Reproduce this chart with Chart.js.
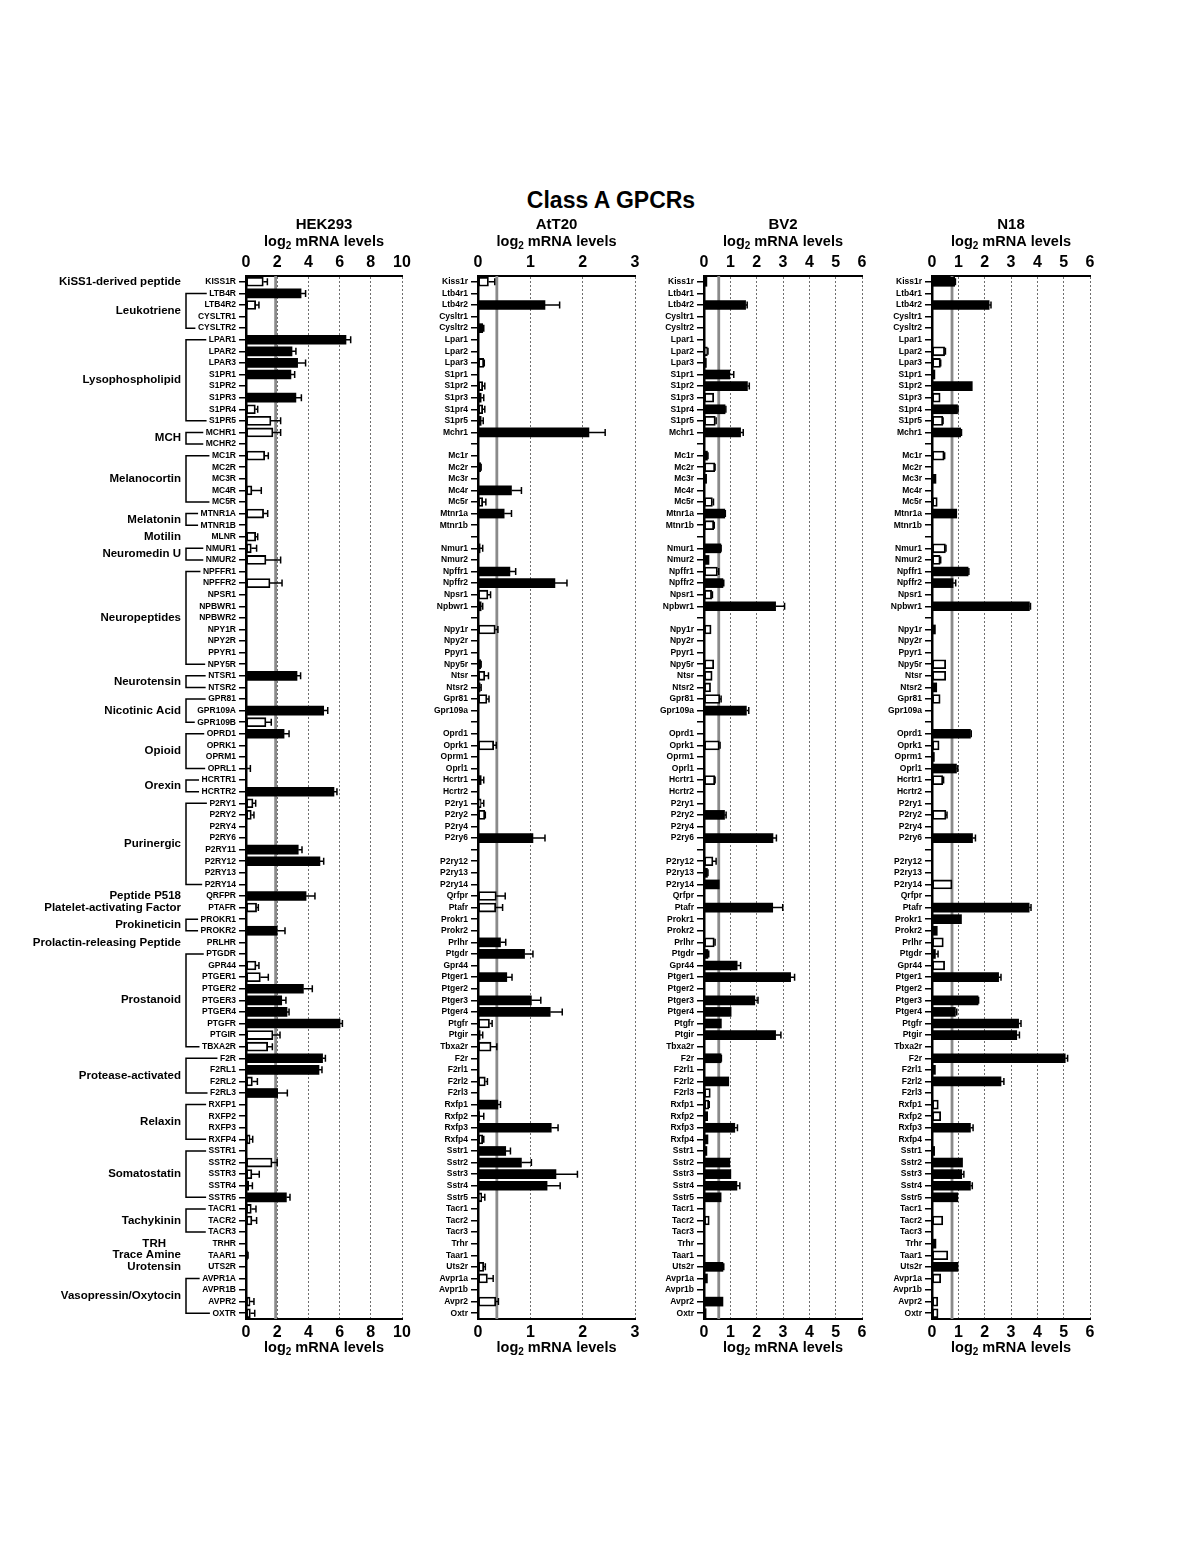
<!DOCTYPE html>
<html><head><meta charset="utf-8">
<script src="https://cdn.jsdelivr.net/npm/chart.js@4.4.1/dist/chart.umd.min.js"></script>
<style>
html,body{margin:0;padding:0;background:#fff;width:1200px;height:1553px;overflow:hidden;}
#title{position:absolute;left:0;width:1222px;top:187px;line-height:24px;text-align:center;font:bold 23px "Liberation Sans",Arial,sans-serif;color:#000;}
canvas{position:absolute;top:210px;}
</style></head><body>
<div id="title">Class A GPCRs</div>
<canvas id="c0" width="420" height="1150" style="left:0px"></canvas>
<canvas id="c1" width="230" height="1150" style="left:420px"></canvas>
<canvas id="c2" width="225" height="1150" style="left:650px"></canvas>
<canvas id="c3" width="225" height="1150" style="left:880px"></canvas>
<script>
// ---------------- DATA ----------------
const humanLabels = ['KISS1R','LTB4R','LTB4R2','CYSLTR1','CYSLTR2','LPAR1','LPAR2','LPAR3','S1PR1','S1PR2',
 'S1PR3','S1PR4','S1PR5','MCHR1','MCHR2','MC1R','MC2R','MC3R','MC4R','MC5R',
 'MTNR1A','MTNR1B','MLNR','NMUR1','NMUR2','NPFFR1','NPFFR2','NPSR1','NPBWR1','NPBWR2',
 'NPY1R','NPY2R','PPYR1','NPY5R','NTSR1','NTSR2','GPR81','GPR109A','GPR109B','OPRD1',
 'OPRK1','OPRM1','OPRL1','HCRTR1','HCRTR2','P2RY1','P2RY2','P2RY4','P2RY6','P2RY11',
 'P2RY12','P2RY13','P2RY14','QRFPR','PTAFR','PROKR1','PROKR2','PRLHR','PTGDR','GPR44',
 'PTGER1','PTGER2','PTGER3','PTGER4','PTGFR','PTGIR','TBXA2R','F2R','F2RL1','F2RL2',
 'F2RL3','RXFP1','RXFP2','RXFP3','RXFP4','SSTR1','SSTR2','SSTR3','SSTR4','SSTR5',
 'TACR1','TACR2','TACR3','TRHR','TAAR1','UTS2R','AVPR1A','AVPR1B','AVPR2','OXTR'];
const mouseLabels = ['Kiss1r','Ltb4r1','Ltb4r2','Cysltr1','Cysltr2','Lpar1','Lpar2','Lpar3','S1pr1','S1pr2',
 'S1pr3','S1pr4','S1pr5','Mchr1','','Mc1r','Mc2r','Mc3r','Mc4r','Mc5r',
 'Mtnr1a','Mtnr1b','','Nmur1','Nmur2','Npffr1','Npffr2','Npsr1','Npbwr1','',
 'Npy1r','Npy2r','Ppyr1','Npy5r','Ntsr','Ntsr2','Gpr81','Gpr109a','','Oprd1',
 'Oprk1','Oprm1','Oprl1','Hcrtr1','Hcrtr2','P2ry1','P2ry2','P2ry4','P2ry6','',
 'P2ry12','P2ry13','P2ry14','Qrfpr','Ptafr','Prokr1','Prokr2','Prlhr','Ptgdr','Gpr44',
 'Ptger1','Ptger2','Ptger3','Ptger4','Ptgfr','Ptgir','Tbxa2r','F2r','F2rl1','F2rl2',
 'F2rl3','Rxfp1','Rxfp2','Rxfp3','Rxfp4','Sstr1','Sstr2','Sstr3','Sstr4','Sstr5',
 'Tacr1','Tacr2','Tacr3','Trhr','Taar1','Uts2r','Avpr1a','Avpr1b','Avpr2','Oxtr'];

const groupNames = ['KiSS1-derived peptide','Leukotriene','Lysophospholipid','MCH','Melanocortin','Melatonin','Motilin',
 'Neuromedin U','Neuropeptides','Neurotensin','Nicotinic Acid','Opioid','Orexin','Purinergic','Peptide P518',
 'Platelet-activating Factor','Prokineticin','Prolactin-releasing Peptide','Prostanoid','Protease-activated',
 'Relaxin','Somatostatin','Tachykinin','TRH','Trace Amine','Urotensin','Vasopressin/Oxytocin'];
const groupSizes = [1,4,8,2,5,2,1,2,9,2,3,4,2,8,1,1,2,1,9,4,4,5,3,1,1,1,4];

const cellLines = ['HEK293','AtT20','BV2','N18'];
const axisMax = [10,3,6,6];
const axisStep = [2,1,1,1];
const thresholds = [1.9,0.36,0.56,0.76];

// 'f' = filled bar, 'o' = open bar, '-' = not detected
const hekValues = [1.11,3.53,0.62,0,0,6.41,2.95,3.31,2.88,0,
 3.20,0.60,1.60,1.73,0,1.20,0,0,0.38,0,
 1.13,0,0.62,0.34,1.28,0,1.54,0,0,0,
 0,0,0,0,3.27,0,0,4.98,1.28,2.44,
 0,0,0.02,0,5.64,0.45,0.34,0,0,3.35,
 4.74,0,0,3.85,0.68,0,2.00,0,0,0.64,
 0.92,3.68,2.29,2.63,6.03,1.73,1.39,4.91,4.68,0.41,
 2.03,0,0,0,0.26,0,1.67,0.38,0.17,2.59,
 0.34,0.38,0,0,0.09,0,0,0,0.26,0.28];
const hekSD = [.26,.29,.21,0,0,.30,.25,.51,.24,0,
 .35,.15,.62,.49,0,.23,0,0,.60,0,
 .26,0,.13,.34,.94,0,.77,0,0,0,
 0,0,0,0,.23,0,0,.26,.34,.32,
 0,0,.26,0,.19,.17,.17,0,0,.24,
 .24,0,0,.57,.11,0,.50,0,0,.19,
 .51,.57,.27,.13,.15,.45,.30,.18,.19,.32,
 .62,0,0,0,.17,0,.33,.47,.24,.23,
 .30,.30,0,0,.04,0,0,0,.25,.28];
const hekType = ['o','f','o','-','-','f','f','f','f','-',
 'f','o','o','o','-','o','-','-','o','-',
 'o','-','o','o','o','-','o','-','-','-',
 '-','-','-','-','f','-','-','f','o','f',
 '-','-','f','-','f','o','o','-','-','f',
 'f','-','-','f','o','-','f','-','-','o',
 'o','f','f','f','f','o','o','f','f','o',
 'f','-','-','-','o','-','o','o','f','f',
 'o','o','-','-','f','-','-','-','o','o'];

const att20Values = [.20,0,1.28,0,.09,0,0,.11,0,.09,
 .06,.09,.06,2.12,0,0,.05,0,.64,.09,
 .50,0,0,.04,0,.61,1.47,.19,.06,0,
 .33,0,0,.05,.13,.04,.17,0,0,0,
 .30,0,0,.06,0,.06,.13,0,1.05,0,
 0,0,0,.35,.34,0,0,.43,.89,0,
 .55,0,1.02,1.38,.22,.04,.25,0,0,.14,
 0,.38,.03,1.40,.09,.53,.83,1.49,1.32,.07,
 0,0,0,0,0,.11,.18,0,.34,0];
const att20SD = [.12,0,.28,0,.02,0,0,.01,0,.04,
 .05,.04,.04,.31,0,0,.01,0,.19,.06,
 .14,0,0,.05,0,.11,.23,.05,.03,0,
 .05,0,0,.01,.07,.02,.04,0,0,0,
 .05,0,0,.05,0,.05,.01,0,.23,0,
 0,0,0,.17,.13,0,0,.10,.16,0,
 .10,0,.18,.23,.05,.05,.11,0,0,.04,
 0,.05,.08,.13,.02,.09,.19,.41,.25,.06,
 0,0,0,0,0,.03,.11,0,.05,0];
const att20Type = ['o','-','f','-','f','-','-','o','-','o',
 'f','o','f','f','-','-','f','-','f','o',
 'f','-','-','f','-','f','f','o','f','-',
 'o','-','-','f','o','f','o','-','-','-',
 'o','-','-','f','-','o','o','-','f','-',
 '-','-','-','o','o','-','-','f','f','-',
 'f','-','f','f','o','f','o','-','-','o',
 '-','f','f','f','o','f','f','f','f','o',
 '-','-','-','-','-','o','o','-','o','-'];

const bv2Values = [.11,0,1.58,0,0,0,.13,.09,.98,1.65,
 .37,.80,.43,1.39,0,.13,.41,.10,0,.32,
 .79,.37,0,.64,.19,.51,.72,.29,2.72,0,
 .27,0,0,.37,.31,.25,.60,1.61,0,0,
 .58,0,0,.41,0,0,.78,0,2.62,0,
 .34,.13,.58,0,2.61,0,0,.39,.15,1.26,
 3.29,0,1.93,1.03,.66,2.72,0,.65,0,.94,
 .24,.18,.14,1.17,.15,.11,.98,1.02,1.25,.65,
 0,.20,0,0,0,.72,.13,0,.72,.08];
const bv2SD = [0,0,.06,0,0,0,.02,0,.15,.07,
 0,.03,.03,.10,0,.02,.01,0,0,.04,
 .02,.02,0,.01,0,.05,.03,.03,.34,0,
 0,0,0,0,0,0,.05,.09,0,0,
 .03,0,0,.01,0,0,.06,0,.13,0,
 .12,.02,0,0,.38,0,0,.03,.03,.13,
 .15,0,.12,0,0,.20,0,.01,0,0,
 0,.02,0,.10,0,0,0,0,.11,0,
 0,0,0,0,0,.03,0,0,0,0];
const bv2Type = ['f','-','f','-','-','-','o','f','f','f',
 'o','f','o','f','-','f','o','f','-','o',
 'f','o','-','f','f','o','f','o','f','-',
 'o','-','-','o','o','o','o','f','-','-',
 'o','-','-','o','-','-','f','-','f','-',
 'o','f','f','-','f','-','-','o','f','f',
 'f','-','f','f','f','f','-','f','-','f',
 'o','o','f','f','f','f','f','f','f','f',
 '-','o','-','-','-','f','f','-','f','f'];

const n18Values = [.86,0,2.17,0,0,0,.48,.32,.11,1.53,
 .31,.97,.41,1.09,0,.46,0,.15,0,.20,
 .94,0,0,.51,.31,1.37,.80,0,3.70,0,
 .13,0,0,.52,.52,.18,.31,0,0,1.46,
 .27,.09,.93,.41,0,0,.53,0,1.54,0,
 0,0,.76,0,3.69,1.12,.20,.43,.13,.48,
 2.53,0,1.75,.89,3.29,3.22,0,5.06,.13,2.62,
 0,.24,.33,1.46,0,.10,1.16,1.13,1.46,.98,
 0,.41,0,.15,.60,.99,.33,0,.22,.23];
const n18SD = [.03,0,.07,0,0,0,.03,.01,0,0,
 0,.02,.01,.03,0,.02,0,0,0,0,
 0,0,0,.02,.02,.03,.10,0,.04,0,
 0,0,0,0,0,0,0,0,0,.03,
 0,0,.05,.03,0,0,.04,0,.11,0,
 0,0,0,0,.07,0,0,0,.10,0,
 .09,0,.02,.05,.09,.10,0,.09,0,.11,
 0,0,0,.10,0,0,0,.08,.07,0,
 0,0,0,0,0,0,0,0,0,0];
const n18Type = ['f','-','f','-','-','-','o','o','f','f',
 'o','f','o','f','-','o','-','f','-','o',
 'f','-','-','o','o','f','f','-','f','-',
 'f','-','-','o','o','f','o','-','-','f',
 'o','f','f','o','-','-','o','-','f','-',
 '-','-','o','-','f','f','f','o','f','o',
 'f','-','f','f','f','f','-','f','f','f',
 '-','o','o','f','-','f','f','f','f','f',
 '-','o','-','f','o','f','o','-','o','o'];

// ---------------- LAYOUT / STYLE ----------------
const FONT = "'Liberation Sans', Arial, Helvetica, sans-serif";
const CANVAS_TOP = 210;
const layouts = [
  {id:'c0', yWidth:246, padRight:18, groups:true},
  {id:'c1', yWidth:58,  padRight:15, groups:false},
  {id:'c2', yWidth:54,  padRight:13, groups:false},
  {id:'c3', yWidth:52,  padRight:15, groups:false}
];
const panelData = [
  {labels:humanLabels, values:hekValues, sd:hekSD, type:hekType},
  {labels:mouseLabels, values:att20Values, sd:att20SD, type:att20Type},
  {labels:mouseLabels, values:bv2Values, sd:bv2SD, type:bv2Type},
  {labels:mouseLabels, values:n18Values, sd:n18SD, type:n18Type}
];
const groupRightOverride = {'TRH':166};

function drawLog2(ctx, cx, cy, size) {
  const f = `bold ${size}px ${FONT}`;
  const fs = `bold ${Math.round(size*0.68)}px ${FONT}`;
  ctx.font = f; const w1 = ctx.measureText('log').width; const w3 = ctx.measureText(' mRNA levels').width;
  ctx.font = fs; const w2 = ctx.measureText('2').width;
  let x = cx - (w1 + w2 + w3) / 2;
  ctx.textAlign = 'left'; ctx.textBaseline = 'middle'; ctx.fillStyle = '#000';
  ctx.font = f; ctx.fillText('log', x, cy); x += w1;
  ctx.font = fs; ctx.fillText('2', x, cy + size * 0.32); x += w2;
  ctx.font = f; ctx.fillText(' mRNA levels', x, cy);
}

function makeChart(k) {
  const L = layouts[k], D = panelData[k];
  const thr = thresholds[k];
  const tickFont = {family: FONT, size: 16, weight: 'bold'};

  const thresholdPlugin = {
    id: 'thr' + k,
    beforeDatasetsDraw(chart) {
      const {ctx, chartArea} = chart; const xs = chart.scales.x;
      const px = xs.getPixelForValue(thr);
      ctx.save(); ctx.strokeStyle = '#8a8a8a'; ctx.lineWidth = 2.8;
      ctx.beginPath(); ctx.moveTo(px, chartArea.top); ctx.lineTo(px, chartArea.bottom); ctx.stroke();
      ctx.restore();
    }
  };
  const errorPlugin = {
    id: 'err' + k,
    afterDatasetsDraw(chart) {
      const {ctx} = chart; const xs = chart.scales.x, ys = chart.scales.y;
      ctx.save(); ctx.strokeStyle = '#000'; ctx.lineWidth = 1.5;
      D.values.forEach((v, i) => {
        const s = D.sd[i]; if (!s) return;
        const y = ys.getPixelForValue(i);
        const x0 = xs.getPixelForValue(v), x1 = xs.getPixelForValue(v + s);
        ctx.beginPath(); ctx.moveTo(x0, y); ctx.lineTo(x1, y);
        ctx.moveTo(x1, y - 3.5); ctx.lineTo(x1, y + 3.5); ctx.stroke();
      });
      ctx.restore();
    }
  };
  const textPlugin = {
    id: 'txt' + k,
    afterDraw(chart) {
      const {ctx, chartArea} = chart;
      const cx = (chartArea.left + chartArea.right) / 2;
      ctx.save();
      ctx.fillStyle = '#000'; ctx.textAlign = 'center'; ctx.textBaseline = 'middle';
      ctx.font = `bold 15px ${FONT}`;
      ctx.fillText(cellLines[k], cx, 225 - CANVAS_TOP);
      drawLog2(ctx, cx, 242 - CANVAS_TOP, 14.5);
      drawLog2(ctx, cx, 1348 - CANVAS_TOP, 14.5);
      if (L.groups) {
        const ys = chart.scales.y;
        const labelRight = ys.right - 7 - 3;
        let start = 0;
        groupNames.forEach((g, gi) => {
          const n = groupSizes[gi]; const a = start, b = start + n - 1; start += n;
          const y1 = ys.getPixelForValue(a), y2 = ys.getPixelForValue(b);
          ctx.font = `bold 11.5px ${FONT}`; ctx.textAlign = 'right'; ctx.textBaseline = 'middle';
          ctx.fillText(g, groupRightOverride[g] || 181, (y1 + y2) / 2);
          if (n > 1) {
            ctx.font = `bold 8.5px ${FONT}`;
            const wa = ctx.measureText(D.labels[a]).width, wb = ctx.measureText(D.labels[b]).width;
            const bx = 186;
            ctx.strokeStyle = '#000'; ctx.lineWidth = 1.5;
            ctx.beginPath();
            ctx.moveTo(labelRight - wa - 2.5, y1); ctx.lineTo(bx, y1); ctx.lineTo(bx, y2); ctx.lineTo(labelRight - wb - 2.5, y2);
            ctx.stroke();
          }
        });
      }
      ctx.restore();
    }
  };

  return new Chart(document.getElementById(L.id), {
    type: 'bar',
    data: {
      labels: D.labels,
      datasets: [{
        data: D.values,
        backgroundColor: D.type.map(t => t === 'o' ? '#fff' : '#000'),
        borderColor: '#000',
        borderWidth: D.type.map(t => t === 'o' ? 1.8 : 0),
        borderSkipped: false,
        barThickness: 9,
        xAxisID: 'x', yAxisID: 'y'
      }]
    },
    options: {
      indexAxis: 'y', responsive: false, animation: false, events: [],
      layout: {padding: {top: 40, bottom: 7, left: 0, right: L.padRight}},
      plugins: {legend: {display: false}, tooltip: {enabled: false}, title: {display: false}},
      scales: {
        y: {
          type: 'category', position: 'left', offset: true,
          grid: {display: true, drawOnChartArea: false, drawTicks: true, tickLength: 7, lineWidth: 1.5, color: '#000', offset: false},
          border: {display: true, color: '#000', width: 2.5},
          ticks: {autoSkip: false, padding: 3, color: '#000', font: {family: FONT, size: 8.5, weight: 'bold'}},
          afterFit: s => { s.width = L.yWidth; }
        },
        x: {
          type: 'linear', position: 'top', min: 0, max: axisMax[k],
          ticks: {stepSize: axisStep[k], color: '#000', padding: 4, font: tickFont},
          grid: {display: true, drawOnChartArea: true, drawTicks: false, lineWidth: 1,
                 color: c => (c.tick && c.tick.value === 0) ? 'rgba(0,0,0,0)' : '#6e6e6e'},
          border: {display: true, color: '#000', width: 2, dash: [2, 2]},
          afterFit: s => { s.height = 26; }
        },
        x2: {
          type: 'linear', axis: 'x', position: 'bottom', min: 0, max: axisMax[k],
          ticks: {stepSize: axisStep[k], color: '#000', padding: 4, font: tickFont},
          grid: {display: false, drawTicks: false, drawOnChartArea: false},
          border: {display: true, color: '#000', width: 2},
          afterFit: s => { s.height = 34; }
        }
      }
    },
    plugins: [thresholdPlugin, errorPlugin, textPlugin]
  });
}
[0, 1, 2, 3].forEach(makeChart);
</script>
</body></html>
